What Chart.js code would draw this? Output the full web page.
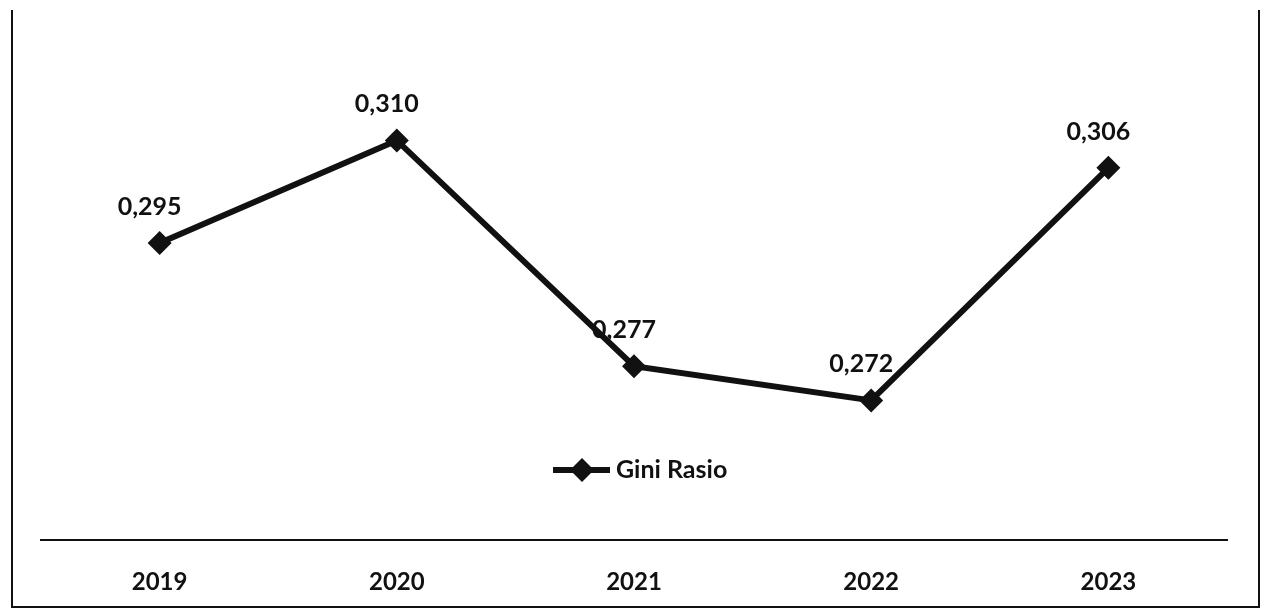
<!DOCTYPE html>
<html>
<head>
<meta charset="utf-8">
<script src="https://cdn.jsdelivr.net/npm/chart.js@4.4.0/dist/chart.umd.min.js"></script>
<style>
  html, body { margin: 0; padding: 0; background: #fff; }
  #wrap { position: relative; width: 1261px; height: 614px; }
  #frame {
    position: absolute; left: 11px; top: 10px; width: 1245px; height: 596px;
    border-left: 2px solid #111; border-right: 2px solid #111; border-bottom: 2px solid #111;
    pointer-events: none;
  }
  canvas { position: absolute; left: 0; top: 0; }
</style>
</head>
<body>
<div id="wrap">
  <canvas id="chart" width="1261" height="614"></canvas>
  <div id="frame"></div>
</div>
<script>
const years = ['2019', '2020', '2021', '2022', '2023'];
const giniValues = [0.295, 0.310, 0.277, 0.272, 0.306];
const seriesName = 'Gini Rasio';

const FONT = 'Lato, "Open Sans", sans-serif';
const fmt = v => v.toFixed(3).replace('.', ',');

// value labels above each point
const valueLabels = {
  id: 'valueLabels',
  afterDatasetsDraw(chart) {
    const { ctx } = chart;
    const meta = chart.getDatasetMeta(0);
    ctx.save();
    ctx.font = `bold 25px ${FONT}`;
    ctx.fillStyle = '#111';
    ctx.textAlign = 'center';
    ctx.textBaseline = 'middle';
    meta.data.forEach((pt, i) => {
      ctx.fillText(fmt(giniValues[i]), pt.x - 10, pt.y - 36);
    });
    ctx.restore();
  }
};

// legend drawn inside the plot, under the lowest points
const innerLegend = {
  id: 'innerLegend',
  afterDraw(chart) {
    const { ctx, chartArea } = chart;
    const cx = (chartArea.left + chartArea.right) / 2;
    const y = 470;
    ctx.save();
    ctx.strokeStyle = '#111';
    ctx.lineWidth = 6;
    ctx.beginPath();
    ctx.moveTo(cx - 81, y);
    ctx.lineTo(cx - 24, y);
    ctx.stroke();
    ctx.fillStyle = '#111';
    ctx.beginPath();
    const dx = cx - 52, r = 12;
    ctx.moveTo(dx, y - r);
    ctx.lineTo(dx + r, y);
    ctx.lineTo(dx, y + r);
    ctx.lineTo(dx - r, y);
    ctx.closePath();
    ctx.fill();
    ctx.font = `bold 25px ${FONT}`;
    ctx.textAlign = 'left';
    ctx.textBaseline = 'middle';
    ctx.fillText(seriesName, cx - 18, y);
    ctx.restore();
  }
};

new Chart(document.getElementById('chart'), {
  type: 'line',
  data: {
    labels: years,
    datasets: [{
      label: seriesName,
      data: giniValues,
      borderColor: '#111',
      backgroundColor: '#111',
      borderWidth: 6,
      pointStyle: 'rectRot',
      pointRadius: 12,
      pointBorderWidth: 0,
      pointBackgroundColor: '#111',
      tension: 0,
    }],
  },
  options: {
    responsive: false,
    animation: false,
    layout: { padding: { left: 41, right: 34, top: 20, bottom: 0 } },
    scales: {
      x: {
        offset: true,
        grid: { display: false, drawTicks: false },
        border: { display: true, color: '#111', width: 2 },
        ticks: { color: '#111', padding: 28, font: { family: FONT, size: 24, weight: 'bold' } },
        afterFit(scale) { scale.height = 74; },
      },
      y: {
        display: false,
        min: 0.2516,
        max: 0.3276,
      },
    },
    plugins: {
      legend: { display: false },
      tooltip: { enabled: false },
    },
  },
  plugins: [valueLabels, innerLegend],
});
</script>
</body>
</html>
